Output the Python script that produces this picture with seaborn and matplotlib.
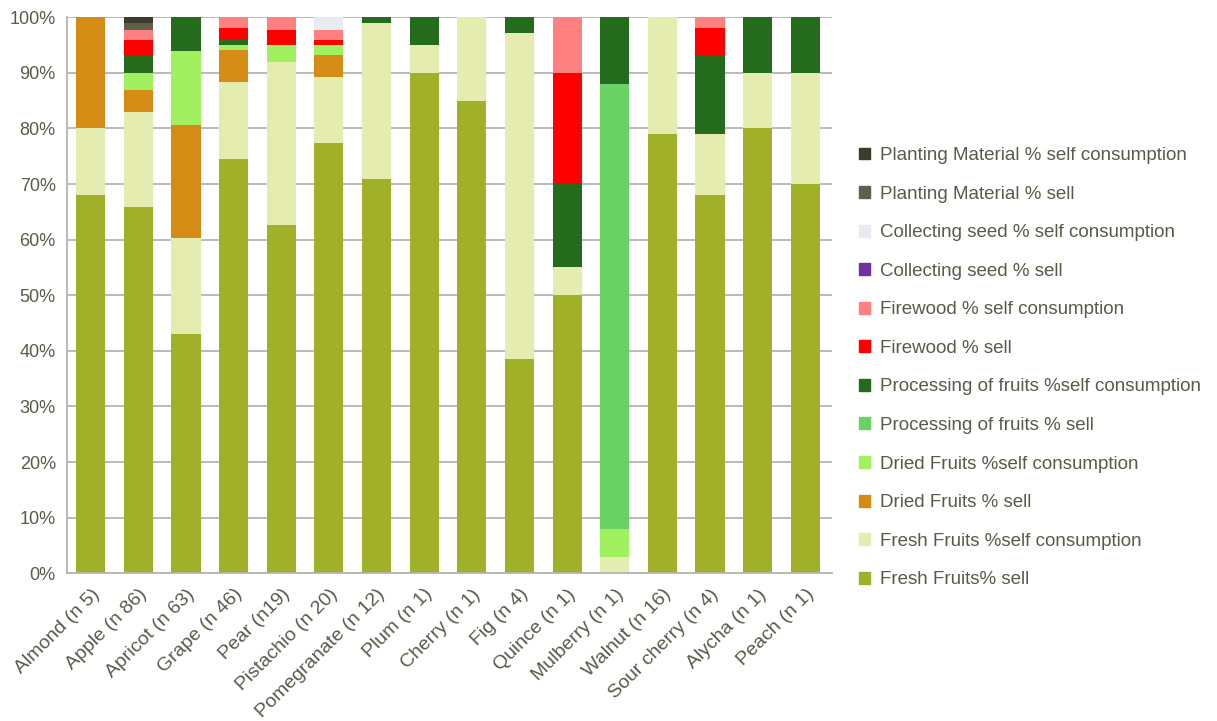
import numpy as np
import pandas as pd
import matplotlib
matplotlib.use("Agg")
import matplotlib.pyplot as plt
import seaborn as sns

sns.set_style("white")
plt.rcParams['font.family'] = ['Liberation Sans', 'DejaVu Sans']

crops = ['Almond (n 5)', 'Apple (n 86)', 'Apricot (n 63)', 'Grape (n 46)', 'Pear (n19)',
         'Pistachio (n 20)', 'Pomegranate (n 12)', 'Plum (n 1)', 'Cherry (n 1)', 'Fig (n 4)',
         'Quince (n 1)', 'Mulberry (n 1)', 'Walnut (n 16)', 'Sour cherry (n 4)',
         'Alycha (n 1)', 'Peach (n 1)']

# stacked from bottom to top
fresh_sell     = [68, 65.8, 43, 74.5, 62.7, 77.3, 71, 90, 85, 38.5, 50, 0, 79, 68, 80, 70]
fresh_self     = [12, 17.1, 17.3, 13.8, 29.3, 12, 28, 5, 15, 58.6, 5, 3, 21, 11, 10, 20]
dried_sell     = [20, 4, 20.3, 5.9, 0, 3.9, 0, 0, 0, 0, 0, 0, 0, 0, 0, 0]
dried_self     = [0, 3.1, 13.3, 0.9, 3.1, 1.9, 0, 0, 0, 0, 0, 5, 0, 0, 0, 0]
proc_sell      = [0, 0, 0, 0, 0, 0, 0, 0, 0, 0, 0, 80, 0, 0, 0, 0]
proc_self      = [0, 3, 6.1, 0.9, 0, 0, 1, 5, 0, 2.9, 15, 12, 0, 14, 10, 10]
fire_sell      = [0, 3, 0, 2, 2.7, 0.9, 0, 0, 0, 0, 20, 0, 0, 5, 0, 0]
fire_self      = [0, 1.8, 0, 2, 2.2, 1.8, 0, 0, 0, 0, 10, 0, 0, 2, 0, 0]
seed_sell      = [0, 0, 0, 0, 0, 0, 0, 0, 0, 0, 0, 0, 0, 0, 0, 0]
seed_self      = [0, 0, 0, 0, 0, 2.2, 0, 0, 0, 0, 0, 0, 0, 0, 0, 0]
plant_sell     = [0, 1.1, 0, 0, 0, 0, 0, 0, 0, 0, 0, 0, 0, 0, 0, 0]
plant_self     = [0, 1.1, 0, 0, 0, 0, 0, 0, 0, 0, 0, 0, 0, 0, 0, 0]

series = [
    ('Fresh Fruits% sell', fresh_sell, '#a0b028'),
    ('Fresh Fruits %self consumption', fresh_self, '#e4ecb0'),
    ('Dried Fruits % sell', dried_sell, '#d48c14'),
    ('Dried Fruits %self consumption', dried_self, '#a0f060'),
    ('Processing of fruits % sell', proc_sell, '#6ad264'),
    ('Processing of fruits %self consumption', proc_self, '#256b1e'),
    ('Firewood % sell', fire_sell, '#ff0000'),
    ('Firewood % self consumption', fire_self, '#ff8080'),
    ('Collecting seed % sell', seed_sell, '#7030a0'),
    ('Collecting seed % self consumption', seed_self, '#e8ecf0'),
    ('Planting Material % sell', plant_sell, '#5f5f4b'),
    ('Planting Material % self consumption', plant_self, '#3b3d2c'),
]

txt = '#5a5a48'
fig = plt.figure(figsize=(12.17, 7.21), dpi=100)
ax = fig.add_axes([0.055, 0.205, 0.629, 0.771])

bottom = np.zeros(len(crops))
handles = []
for name, vals, col in series:
    df = pd.DataFrame({'crop': crops, 'v': vals})
    sns.barplot(data=df, x='crop', y='v', color=col, bottom=bottom, width=0.61,
                saturation=1, ax=ax, label=name, linewidth=0)
    bottom = bottom + np.array(vals)
    handles.append(plt.Rectangle((0, 0), 1, 1, color=col))

ax.set_ylim(0, 100)
ax.set_xlim(-0.5, len(crops) - 0.43)
ax.set_yticks(np.arange(0, 101, 10))
ax.set_yticklabels([f'{t}%' for t in range(0, 101, 10)])
ax.yaxis.grid(True, color='#b4b4b4', linewidth=1.3)
ax.set_axisbelow(True)
ax.set_xlabel('')
ax.set_ylabel('')
for s in ['top', 'right']:
    ax.spines[s].set_visible(False)
for s in ['left', 'bottom']:
    ax.spines[s].set_color('#b4b4b4')
    ax.spines[s].set_linewidth(1.3)
ax.tick_params(axis='y', labelsize=13, colors=txt, length=0, pad=8)
ax.tick_params(axis='x', labelsize=14, colors=txt, length=0, pad=9)
plt.setp(ax.get_xticklabels(), rotation=45, ha='right', rotation_mode='anchor')
if ax.get_legend():
    ax.get_legend().remove()

labels = [s[0] for s in series]
fig.legend(handles[::-1], labels[::-1], loc='center left', bbox_to_anchor=(0.692, 0.49),
           frameon=False, fontsize=13.5, labelcolor=txt, handlelength=0.6,
           handleheight=0.6, handletextpad=0.5, labelspacing=1.15)

fig.savefig('out.png', dpi=100)
